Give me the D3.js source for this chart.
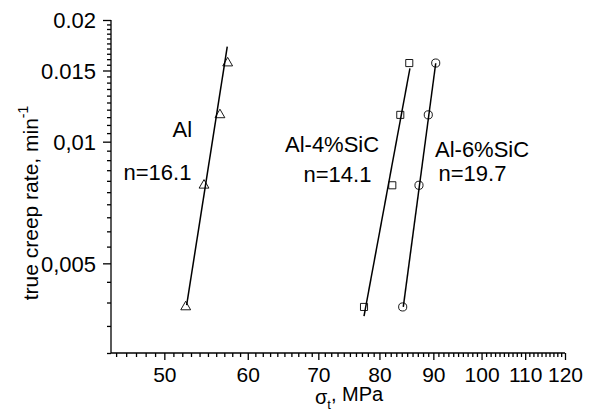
<!DOCTYPE html>
<html><head><meta charset="utf-8">
<script src="https://cdn.jsdelivr.net/npm/d3@7"></script>
<style>
body{margin:0;background:#fff}
svg{display:block}
text{font-family:"Liberation Sans",Arial,sans-serif;fill:#000}
</style>
</head><body>
<svg id="c" width="595" height="414"></svg>
<script>
// ---- data ----
const rates      = [0.0039, 0.0078, 0.01165, 0.01565];
const stressAl   = [52.39, 54.53, 56.46, 57.42];
const stressSiC4 = [77.35, 82.28, 83.73, 85.39];
const stressSiC6 = [84.17, 87.22, 89.01, 90.47];
const fitAl   = [[52.50, 0.00394], [57.37, 0.01718]];
const fitSiC4 = [[77.35, 0.00370], [85.51, 0.01519]];
const fitSiC6 = [[84.28, 0.00390], [90.47, 0.01563]];
const xMajor  = [50, 60, 70, 80, 90, 100, 110, 120];
const yMajor  = [0.005, 0.01, 0.015, 0.02];
const yTickLabels = ["0,005", "0,01", "0.015", "0.02"];
const seriesNames = ["Al", "Al-4%SiC", "Al-6%SiC"];
const nValues = ["n=16.1", "n=14.1", "n=19.7"];

// ---- scales ----
const svg = d3.select("#c");
const x = d3.scaleLog().domain([44.5, 120]).range([111, 565]);
const y = d3.scaleLog().domain([0.003, 0.02]).range([353, 20]);

const xMinor = d3.range(45, 120).filter(v => v % 10 !== 0);
const yMinor = d3.range(6, 40).map(k => k * 0.0005).filter(v => !yMajor.some(m => Math.abs(m - v) < 1e-9));

// ---- axes ----
const gx = svg.append("g").attr("transform", "translate(0,353)");
gx.call(d3.axisBottom(x).tickValues(xMinor).tickSize(4).tickFormat(""));
gx.call(g => g.select(".domain").remove());
const gx2 = svg.append("g").attr("transform", "translate(0,353)");
gx2.call(d3.axisBottom(x).tickValues(xMajor).tickSize(7).tickFormat(d3.format("d")));
gx2.selectAll("text").attr("font-size", 21).attr("font-family", null).attr("dy", null).attr("y", 29);
gx2.select(".domain").attr("d", `M${x.range()[0]},0H${x.range()[1]}`);

const gy = svg.append("g").attr("transform", "translate(111,0)");
gy.call(d3.axisLeft(y).tickValues(yMinor).tickSize(4).tickFormat(""));
gy.call(g => g.select(".domain").remove());
const gy2 = svg.append("g").attr("transform", "translate(111,0)");
gy2.call(d3.axisLeft(y).tickValues(yMajor).tickSize(8).tickPadding(7)
  .tickFormat((d, i) => yTickLabels[i]));
gy2.selectAll("text").attr("font-size", 22).attr("font-family", null).attr("dy", "0.35em");
gy2.select(".domain").attr("d", `M0,${y.range()[0]}V${y.range()[1]}`);

svg.selectAll(".domain, .tick line").attr("stroke", "#000").attr("stroke-width", 1.3);

// ---- fit lines ----
const line = d3.line().x(d => x(d[0])).y(d => y(d[1]));
[fitAl, fitSiC4, fitSiC6].forEach(f => {
  svg.append("path").attr("d", line(f)).attr("fill", "none")
    .attr("stroke", "#000").attr("stroke-width", 1.5);
});

// ---- markers ----
const pts = (xs) => xs.map((v, i) => [v, rates[i]]);
const symTri = d3.symbol().type(d3.symbolTriangle).size(42);
const symSq  = d3.symbol().type(d3.symbolSquare).size(50);
const symCir = d3.symbol().type(d3.symbolCircle).size(52);
[[stressAl, symTri], [stressSiC4, symSq], [stressSiC6, symCir]].forEach(([xs, sym]) => {
  svg.append("g").selectAll("path").data(pts(xs)).join("path")
    .attr("d", sym)
    .attr("transform", d => `translate(${x(d[0])},${y(d[1])})`)
    .attr("fill", "none").attr("stroke", "#000").attr("stroke-width", 0.9);
});

// ---- annotations ----
const ann = [
  [seriesNames[0], 172.5, 137],
  [nValues[0], 123.5, 180],
  [seriesNames[1], 285, 152],
  [nValues[1], 303.5, 182],
  [seriesNames[2], 435, 157],
  [nValues[2], 438.5, 181]
];
ann.forEach(([t, ax, ay]) => {
  svg.append("text").attr("x", ax).attr("y", ay).attr("font-size", 22).text(t);
});

// ---- axis titles ----
const yt = svg.append("text").attr("transform", "translate(38,203) rotate(-90)")
  .attr("text-anchor", "middle").attr("font-size", 21);
yt.append("tspan").text("true creep rate, min");
yt.append("tspan").attr("font-size", 14).attr("dy", "-0.75em").text("-1");

const xt = svg.append("text").attr("x", 315).attr("y", 404).attr("font-size", 20);
xt.append("tspan").text("σ");
xt.append("tspan").attr("font-size", 13).attr("dy", "0.4em").text("t");
xt.append("tspan").attr("dy", "-0.4em").text(", MPa");
</script>
</body></html>
